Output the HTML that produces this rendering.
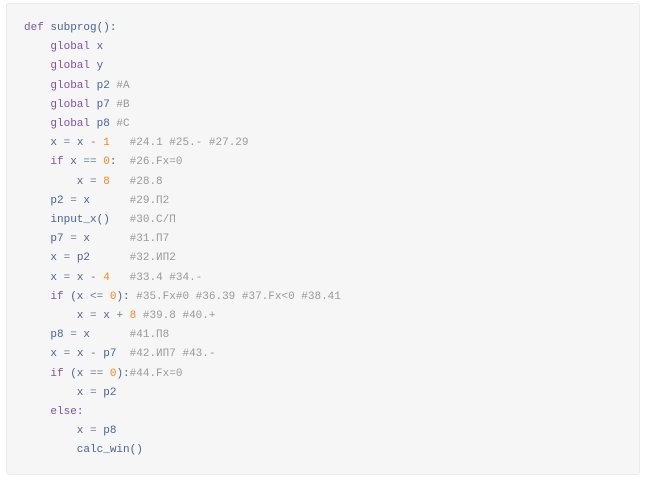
<!DOCTYPE html>
<html><head><meta charset="utf-8"><style>
html,body{margin:0;padding:0;background:#fff;width:650px;height:482px;overflow:hidden}
.box{position:absolute;left:6px;top:3px;width:634px;height:472px;background:#f6f6f6;border:1px solid #ebebeb;border-radius:3px;box-sizing:border-box}
pre{position:absolute;left:24px;top:19px;margin:0;font-family:"Liberation Mono",monospace;font-size:11px;line-height:19.2px;color:#45639a}
.k{color:#8153a3}.n{color:#f5871f}.c{color:#999}.o{color:#6a7a94}
</style></head><body><div class="box"></div>
<pre><span class="k">def</span> subprog():
    <span class="k">global</span> x
    <span class="k">global</span> y
    <span class="k">global</span> p2 <span class="c">#A</span>
    <span class="k">global</span> p7 <span class="c">#B</span>
    <span class="k">global</span> p8 <span class="c">#C</span>
    x <span class="o">=</span> x <span class="o">-</span> <span class="n">1</span>   <span class="c">#24.1 #25.- #27.29</span>
    <span class="k">if</span> x <span class="o">==</span> <span class="n">0</span>:  <span class="c">#26.Fx=0</span>
        x <span class="o">=</span> <span class="n">8</span>   <span class="c">#28.8</span>
    p2 <span class="o">=</span> x      <span class="c">#29.П2</span>
    input_x()   <span class="c">#30.С/П</span>
    p7 <span class="o">=</span> x      <span class="c">#31.П7</span>
    x <span class="o">=</span> p2      <span class="c">#32.ИП2</span>
    x <span class="o">=</span> x <span class="o">-</span> <span class="n">4</span>   <span class="c">#33.4 #34.-</span>
    <span class="k">if</span> (x <span class="o">&lt;=</span> <span class="n">0</span>): <span class="c">#35.Fx#0 #36.39 #37.Fx&lt;0 #38.41</span>
        x <span class="o">=</span> x <span class="o">+</span> <span class="n">8</span> <span class="c">#39.8 #40.+</span>
    p8 <span class="o">=</span> x      <span class="c">#41.П8</span>
    x <span class="o">=</span> x <span class="o">-</span> p7  <span class="c">#42.ИП7 #43.-</span>
    <span class="k">if</span> (x <span class="o">==</span> <span class="n">0</span>):<span class="c">#44.Fx=0</span>
        x <span class="o">=</span> p2
    <span class="k">else</span>:
        x <span class="o">=</span> p8
        calc_win()</pre>
</body></html>
